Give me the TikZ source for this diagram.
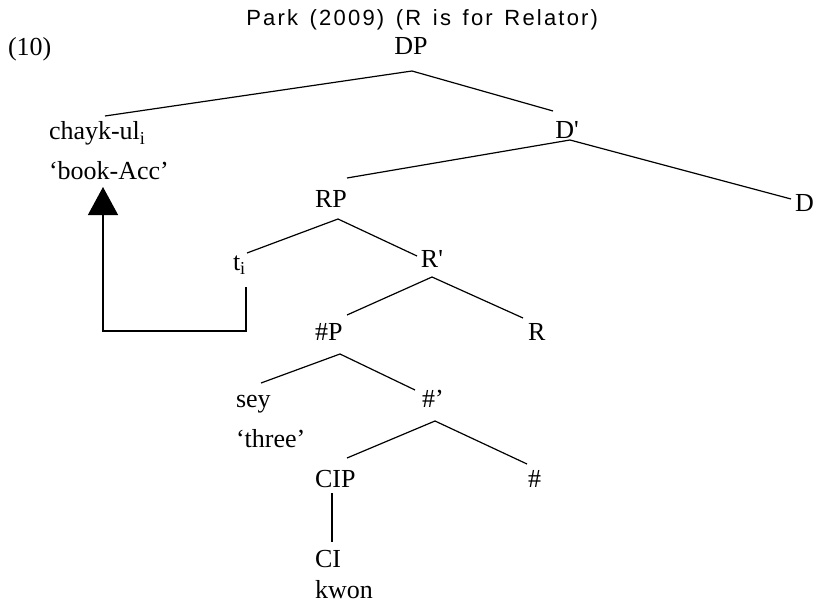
\documentclass[tikz,border=0pt]{standalone}
\usepackage{fontspec}
\setmainfont{Liberation Serif}
\newfontfamily\titlefont[LetterSpace=10,WordSpace=1.4]{Liberation Sans}
\usetikzlibrary{arrows.meta}
\begin{document}
\begin{tikzpicture}[x=0.75pt,y=-0.75pt,
  lbl/.style={inner sep=0pt,outer sep=0pt,font=\fontsize{19.5pt}{22pt}\selectfont},
  lw/.style={lbl,anchor=base west},
  lc/.style={lbl,anchor=base},
  branch/.style={line width=0.9pt},
  move/.style={line width=1pt,-{Triangle[width=22.5pt,length=21pt]}}]
\useasboundingbox (0,0) rectangle (817,606);
\node[inner sep=0pt,anchor=base west,font=\titlefont\fontsize{16.5pt}{19pt}\selectfont] (title) at (246,26) {Park (2009) (R is for Relator)};
\node[lw] (ex) at (8,56) {(10)};
\node[lc] (DP) at (411,55) {DP};
\node[lw] (chayk) at (49,140) {chayk-ul\textsubscript{i}};
\node[lw] (book) at (49,180) {‘book-Acc’};
\node[lc] (Dbar) at (567,139) {D\textquotesingle};
\node[lc] (RP) at (331,207) {RP};
\node[lw] (D) at (795,211) {D};
\node[lw] (t) at (233,270) {t\textsubscript{i}};
\node[lc] (Rbar) at (432,267) {R\textquotesingle};
\node[lw] (NP) at (315,340) {\#P};
\node[lw] (R) at (528,340) {R};
\node[lw] (sey) at (236,407) {sey};
\node[lw] (three) at (236,447) {‘three’};
\node[lw] (Nbar) at (422,407) {\#’};
\node[lw] (CIP) at (315,487) {CIP};
\node[lw] (N) at (528,487) {\#};
\node[lw] (CI) at (315,567) {CI};
\node[lw] (kwon) at (315,598) {kwon};

\draw[branch] ([shift={(1,16)}]DP.base) -- ([shift={(56,-24)}]chayk.base west);
\draw[branch] ([shift={(1,16)}]DP.base) -- ([shift={(-14,-28)}]Dbar.base);
\draw[branch] ([shift={(3,1)}]Dbar.base) -- ([shift={(16,-29)}]RP.base);
\draw[branch] ([shift={(3,1)}]Dbar.base) -- ([shift={(-4,-12)}]D.base west);
\draw[branch] ([shift={(7,12)}]RP.base) -- ([shift={(14,-17)}]t.base west);
\draw[branch] ([shift={(7,12)}]RP.base) -- ([shift={(-15,-11)}]Rbar.base);
\draw[branch] ([shift={(0,10)}]Rbar.base) -- ([shift={(32,-25)}]NP.base west);
\draw[branch] ([shift={(0,10)}]Rbar.base) -- ([shift={(-5,-22)}]R.base west);
\draw[branch] ([shift={(25,14)}]NP.base west) -- ([shift={(25,-24)}]sey.base west);
\draw[branch] ([shift={(25,14)}]NP.base west) -- ([shift={(-7,-17)}]Nbar.base west);
\draw[branch] ([shift={(13,14)}]Nbar.base west) -- ([shift={(32,-29)}]CIP.base west);
\draw[branch] ([shift={(13,14)}]Nbar.base west) -- ([shift={(-1,-23)}]N.base west);
\draw[branch] ([shift={(17,6)}]CIP.base west) -- ([shift={(17,-25)}]CI.base west);
\draw[move] ([shift={(13,17)}]t.base west) -- ++(0,44) -| ([shift={(54,7)}]book.base west);
\end{tikzpicture}
\end{document}
